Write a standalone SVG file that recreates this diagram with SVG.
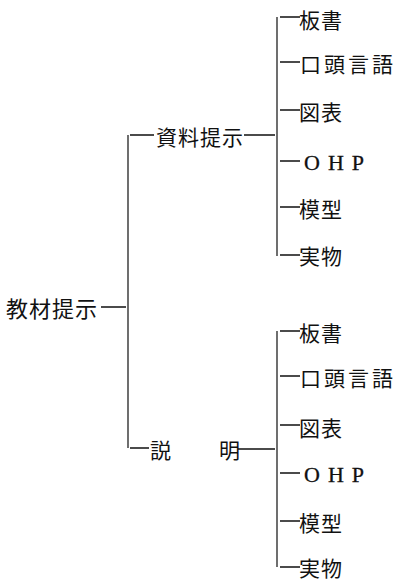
<svg xmlns="http://www.w3.org/2000/svg" width="399" height="582" viewBox="0 0 399 582">
<style>
.t{font-family:"Noto Sans CJK JP","Noto Sans CJK SC",sans-serif;font-size:21px;fill:#111;dominant-baseline:central}
.e{font-family:"Liberation Serif",serif;font-size:22px;fill:#111;stroke:#111;stroke-width:0.3;dominant-baseline:central;letter-spacing:8px}
.l{stroke:#222;stroke-width:1.3;fill:none}
.d{stroke:#111;stroke-width:1.6;fill:none}
</style>
<rect width="399" height="582" fill="#fff"/>
<g id="connectors">
<path class="l" d="M128 135V448M277 17V256M277 331V567"/>
<path class="d" d="M101 307H126M130 135H154M130 448H149M244 135H275M238 449H275"/>
<path class="d" d="M280 17H300M280 62H300M280 110H300M280 161H300M280 207H300M280 255H300"/>
<path class="d" d="M280 331H300M280 376H300M280 425H300M280 473H300M280 521H300M280 567H300"/>
</g>
<g id="root"><text class="t" x="6" y="307" style="font-size:22px;letter-spacing:1px">教材提示</text></g>
<g id="shiryo"><text class="t" x="156" y="136" style="letter-spacing:1px">資料提示</text></g>
<g id="setsumei"><text class="t" x="150 185 219" y="449">説　明</text></g>
<g id="a1"><text class="t" x="299" y="19" style="letter-spacing:1px">板書</text></g>
<g id="a2"><text class="t" x="300" y="63" style="letter-spacing:3px">口頭言語</text></g>
<g id="a3"><text class="t" x="299" y="111" style="letter-spacing:1px">図表</text></g>
<g id="a4"><text class="e" x="304" y="162">OHP</text></g>
<g id="a5"><text class="t" x="299" y="208" style="letter-spacing:1px">模型</text></g>
<g id="a6"><text class="t" x="299" y="255" style="letter-spacing:1px">実物</text></g>
<g id="b1"><text class="t" x="299" y="332" style="letter-spacing:1px">板書</text></g>
<g id="b2"><text class="t" x="300" y="377" style="letter-spacing:3px">口頭言語</text></g>
<g id="b3"><text class="t" x="299" y="427" style="letter-spacing:1px">図表</text></g>
<g id="b4"><text class="e" x="304" y="474">OHP</text></g>
<g id="b5"><text class="t" x="299" y="522" style="letter-spacing:1px">模型</text></g>
<g id="b6"><text class="t" x="299" y="567" style="letter-spacing:1px">実物</text></g>
</svg>
